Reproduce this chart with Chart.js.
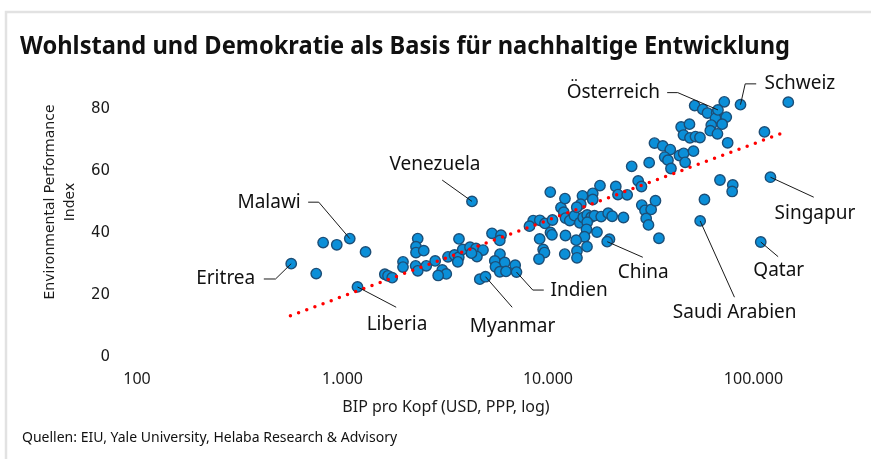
<!DOCTYPE html>
<html>
<head>
<meta charset="utf-8">
<script src="https://cdn.jsdelivr.net/npm/chart.js@4.4.1/dist/chart.umd.min.js"></script>
<style>
  html, body { margin: 0; padding: 0; background: #fff; }
  #wrap { width: 871px; height: 459px; }
</style>
</head>
<body>
<div id="wrap"><canvas id="chart" width="871" height="459"></canvas></div>
<script>
// GDP per capita (USD, PPP) and EPI score of the unlabelled countries
const gdp = [745, 805, 938, 1295, 1607, 1665, 1745, 1970, 1970, 2323, 2279, 2279, 2486, 2270, 2325, 2557,
  2825, 3059, 3200, 2922, 3262, 3508, 3681, 3640, 3689, 3849, 4174, 4462, 4829, 4512, 4244, 4658,
  5340, 5906, 5828, 5840, 5510, 6157, 5554, 5828, 6247, 6925, 8472, 9123, 8128, 9669, 10517, 10261,
  9112, 10285, 10459, 9475, 9616, 9041, 11567, 11937, 12165, 12096, 12763, 13459, 14284, 14840, 15520,
  16232, 16843, 18153, 19633, 20532, 23301, 15520, 15395, 15055, 13715, 12165, 17320, 15485, 13840,
  13840, 12070, 14720, 14440, 13807, 16520, 16520, 17910, 19925, 21380, 21910, 24290, 27480, 28510,
  25550, 31080, 28610, 29650, 31780, 33350, 30060, 30840, 34680, 32980, 36200, 39370, 36980, 38370,
  39680, 43630, 45730, 46510, 51050, 44480, 48820, 45640, 49090, 52220, 54910, 57740, 68710, 79300,
  78770, 113100, 74900, 147700, 51750, 56670, 59740, 66220, 72100, 65330, 73740, 62340, 70440, 61640, 66800];
const epi = [26.9, 36.9, 36.2, 33.9, 26.7, 26.2, 25.6, 30.7, 29.0, 38.2, 35.6, 33.7, 34.3, 29.4, 27.8, 29.4,
  31.0, 28.1, 26.8, 26.3, 32.3, 32.9, 32.2, 30.7, 38.1, 34.7, 35.4, 35.0, 34.5, 32.4, 33.5, 25.1,
  39.9, 39.3, 37.6, 33.2, 31.0, 30.5, 29.1, 27.5, 27.6, 29.6, 44.0, 44.1, 42.2, 43.1, 44.2, 53.2,
  38.1, 40.2, 39.4, 34.7, 33.7, 31.6, 48.2, 46.7, 44.8, 51.1, 44.0, 45.6, 43.3, 45.0, 45.8,
  45.1, 45.6, 45.3, 46.4, 45.4, 45.0, 43.5, 41.2, 38.8, 37.7, 39.2, 40.3, 35.6, 34.2,
  32.0, 33.2, 52.0, 49.3, 48.3, 52.8, 50.8, 55.3, 38.0, 55.0, 52.4, 52.3, 56.8, 55.0,
  61.5, 62.7, 49.0, 47.3, 47.6, 50.4, 44.7, 42.6, 38.3, 69.0, 68.1, 66.9, 64.5, 63.5,
  60.8, 65.0, 65.7, 62.8, 66.4, 74.2, 75.1, 71.6, 70.7, 71.1, 70.8, 50.8, 57.1, 55.5,
  53.4, 72.6, 69.1, 82.2, 81.1, 79.9, 78.7, 78.7, 82.3, 77.0, 77.4, 74.8, 75.1, 73.0, 72.0];

// labelled countries
const labelNames = ["Eritrea", "Malawi", "Liberia", "Venezuela", "Myanmar", "Indien", "China",
  "Saudi Arabien", "Qatar", "Singapur", "Schweiz", "Österreich"];
const labelGdp = [563, 1085, 1183, 4268, 4966, 7027, 19420, 55030, 108500, 120960, 86480, 67190];
const labelEpi = [30.1, 38.2, 22.6, 50.2, 25.9, 27.4, 37.2, 43.9, 37.1, 58.0, 81.4, 79.7];

// linear trend on log GDP
const trendGdp = [558, 137900];
const trendEpi = [13.3, 72.2];

const xTicks = [100, 1000, 10000, 100000];
const xTickLabels = ["100", "1.000", "10.000", "100.000"];
const yTicks = [0, 20, 40, 60, 80];

// leader lines: pixel offsets from the point, then label position
const callouts = [
  { name: "Eritrea", path: [[-15.7, 15.3], [-27.4, 15.3]], label: [-36, 15.3], align: "right" },
  { name: "Malawi", path: [[-31, -36.4], [-41.6, -36.4]], label: [-49, -36.4], align: "right" },
  { name: "Liberia", path: [[38.7, 20.3]], label: [39.5, 38], align: "center" },
  { name: "Venezuela", path: [[-29.8, -21.3]], label: [-37, -36.3], align: "center" },
  { name: "Myanmar", path: [[26.7, 30.6]], label: [27, 50.3], align: "center" },
  { name: "Indien", path: [[16.3, 18], [27.3, 18]], label: [34, 19], align: "left" },
  { name: "China", path: [[35.6, 15.6]], label: [36, 30.5], align: "center" },
  { name: "Saudi Arabien", path: [[34.3, 76.3]], label: [34.5, 92], align: "center" },
  { name: "Qatar", path: [[17.4, 14.7]], label: [18, 29], align: "center" },
  { name: "Singapur", path: [[43.3, 20]], label: [44.5, 36], align: "center" },
  { name: "Schweiz", path: [[4.7, -20.8], [15.7, -20.8]], label: [24, -21], align: "left" },
  { name: "Österreich", path: [[-40.2, -17.3], [-50.8, -17.3]], label: [-58, -17.3], align: "right" },
];

const points = gdp.map((g, i) => ({ x: g, y: epi[i] }))
  .concat(labelGdp.map((g, i) => ({ x: g, y: labelEpi[i] })));
const trend = trendGdp.map((g, i) => ({ x: g, y: trendEpi[i] }));

const framePlugin = {
  id: "frame",
  beforeDraw(chart) {
    const ctx = chart.ctx;
    ctx.save();
    ctx.fillStyle = "#fff";
    ctx.fillRect(0, 0, chart.width, chart.height);
    ctx.strokeStyle = "#e2e2e2";
    ctx.lineWidth = 2.5;
    ctx.beginPath();
    ctx.moveTo(6, chart.height);
    ctx.lineTo(6, 12);
    ctx.lineTo(chart.width, 12);
    ctx.stroke();

    ctx.fillStyle = "#111";
    ctx.textBaseline = "middle";
    ctx.textAlign = "left";
    ctx.font = 'bold 25px "Noto Sans"';
    ctx.fillText("Wohlstand und Demokratie als Basis für nachhaltige Entwicklung", 20, 47, 770);
    ctx.font = '14px "Noto Sans"';
    ctx.fillText("Quellen: EIU, Yale University, Helaba Research & Advisory", 22, 438, 415);

    ctx.fillStyle = "#1a1a1a";
    ctx.textAlign = "center";
    ctx.font = '16px "Noto Sans"';
    ctx.fillText("BIP pro Kopf (USD, PPP, log)", 446, 407, 222);

    ctx.font = '14px "DejaVu Sans"';
    [["Environmental Performance", 50], ["Index", 70]].forEach(([t, cx]) => {
      ctx.save();
      ctx.translate(cx, 202);
      ctx.rotate(-Math.PI / 2);
      ctx.fillText(t, 0, 0);
      ctx.restore();
    });
    ctx.restore();
  }
};

const calloutPlugin = {
  id: "callouts",
  afterDatasetsDraw(chart) {
    const { ctx, scales: { x, y } } = chart;
    ctx.save();
    callouts.forEach(c => {
      const i = labelNames.indexOf(c.name);
      const px = x.getPixelForValue(labelGdp[i]);
      const py = y.getPixelForValue(labelEpi[i]);
      ctx.beginPath();
      ctx.moveTo(px, py);
      c.path.forEach(([dx, dy]) => ctx.lineTo(px + dx, py + dy));
      ctx.strokeStyle = "#1a1a1a";
      ctx.lineWidth = 1;
      ctx.stroke();
      ctx.font = '19px "Noto Sans"';
      ctx.textAlign = c.align;
      ctx.textBaseline = "middle";
      ctx.fillStyle = "#111";
      ctx.fillText(c.name, px + c.label[0], py + c.label[1]);
    });
    ctx.restore();
  }
};

new Chart(document.getElementById("chart"), {
  type: "scatter",
  data: {
    datasets: [
      {
        data: trend,
        showLine: true,
        borderColor: "#ff0000",
        borderWidth: 3.5,
        borderDash: [0, 8.7],
        borderCapStyle: "round",
        pointRadius: 0,
        order: 0
      },
      {
        data: points,
        backgroundColor: "#0b8fd8",
        borderColor: "#1c4e77",
        borderWidth: 1.4,
        pointRadius: 5.2,
        order: 1
      }
    ]
  },
  options: {
    responsive: false,
    animation: false,
    devicePixelRatio: 1,
    layout: { padding: { left: 0, right: 19.5, top: 78, bottom: 0 } },
    plugins: { legend: { display: false }, tooltip: { enabled: false } },
    scales: {
      x: {
        type: "logarithmic",
        min: 100,
        max: 300000,
        grid: { display: false, drawTicks: false, tickLength: 0 },
        border: { display: false },
        afterBuildTicks: a => { a.ticks = xTicks.map(v => ({ value: v })); },
        afterFit: s => { s.height = 102; },
        ticks: {
          autoSkip: false,
          maxRotation: 0,
          padding: 13,
          color: "#1a1a1a",
          font: { family: "Noto Sans", size: 16 },
          callback: v => xTickLabels[xTicks.indexOf(v)]
        }
      },
      y: {
        min: 0,
        max: 90,
        grid: { display: false, drawTicks: false, tickLength: 0 },
        border: { display: false },
        afterBuildTicks: a => { a.ticks = yTicks.map(v => ({ value: v })); },
        afterFit: s => { s.width = 137; },
        ticks: {
          padding: 27,
          color: "#1a1a1a",
          font: { family: "DejaVu Sans", size: 15 }
        }
      }
    }
  },
  plugins: [framePlugin, calloutPlugin]
});
</script>
</body>
</html>
